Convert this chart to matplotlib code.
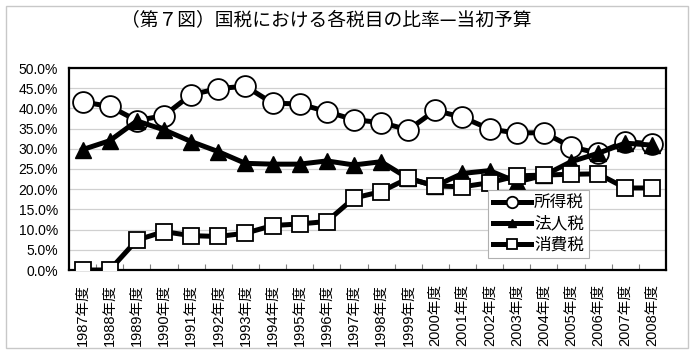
import matplotlib
matplotlib.use("Agg")
import matplotlib.pyplot as plt
from matplotlib.patches import Rectangle
from matplotlib.ticker import FixedLocator, PercentFormatter
import numpy as np

plt.rcParams['font.family'] = ['Liberation Sans', 'Noto Sans CJK JP', 'DejaVu Sans']

title = "（第７図）国税における各税目の比率—当初予算"
years = [f"{y}年度" for y in range(1987, 2009)]
series_names = ["所得税", "法人税", "消費税"]
income_tax = [41.6, 40.5, 37.0, 38.2, 43.4, 44.9, 45.5, 41.3, 41.1, 39.2, 37.2,
              36.5, 34.7, 39.5, 37.8, 34.9, 33.9, 34.0, 30.5, 28.9, 31.8, 31.2]
corporate_tax = [29.8, 32.0, 36.9, 34.7, 31.8, 29.3, 26.4, 26.2, 26.2, 27.0, 26.0,
                 26.8, 22.7, 20.8, 23.9, 24.6, 21.8, 23.4, 26.8, 28.9, 31.4, 30.9]
consumption_tax = [0.0, 0.0, 7.4, 9.5, 8.5, 8.3, 9.1, 11.0, 11.4, 12.0, 17.8,
                   19.4, 22.7, 20.8, 20.6, 21.6, 23.3, 23.5, 23.7, 23.8, 20.3, 20.3]
y_ticks = [0, 5, 10, 15, 20, 25, 30, 35, 40, 45, 50]

fig = plt.figure(figsize=(7.0, 3.57), dpi=100)
fig.patch.set_facecolor("white")
fig.patches.append(Rectangle((6/700, 1-348/357), (688-6)/700, (348-6)/357,
                             transform=fig.transFigure, fill=False,
                             edgecolor="#c8c8c8", linewidth=1.0))

ax = fig.add_axes([69/700, 1-270/357, (666-69)/700, (270-68)/357])
x = np.arange(len(years))

lw = 3.6
ax.plot(x, income_tax, color="black", lw=lw, marker="o", ms=15,
        mfc="white", mec="black", mew=1.3, label=series_names[0], zorder=3)
ax.plot(x, corporate_tax, color="black", lw=lw, marker="^", ms=11,
        mfc="black", mec="black", mew=1.0, label=series_names[1], zorder=4)
ax.plot(x, consumption_tax, color="black", lw=lw, marker="s", ms=12,
        mfc="white", mec="black", mew=1.3, label=series_names[2], zorder=5)

ax.set_xlim(-0.5, len(years) - 0.5)
ax.set_ylim(0, 50)
ax.set_yticks(y_ticks)
ax.yaxis.set_major_formatter(PercentFormatter(decimals=1))
ax.tick_params(axis="y", length=0, pad=8, labelsize=10)
ax.set_xticks(x)
ax.set_xticklabels(years, rotation=90, fontsize=10.5)
ax.tick_params(axis="x", which="major", length=0, pad=10)
ax.xaxis.set_minor_locator(FixedLocator(np.arange(0.5, len(years) - 1, 1.0)))
ax.tick_params(axis="x", which="minor", direction="in", length=4, width=0.8, color="#808080")
ax.grid(axis="y", color="#d0d0d0", linewidth=0.9, zorder=0)
ax.set_axisbelow(True)
for sp in ax.spines.values():
    sp.set_linewidth(1.6)
    sp.set_color("black")

leg = ax.legend(loc="upper left", bbox_to_anchor=(0.702, 0.396), borderaxespad=0,
                fontsize=12, handlelength=2.3, markerscale=0.55, fancybox=False,
                framealpha=1, edgecolor="#b0b0b0", labelspacing=0.22,
                borderpad=0.3, handletextpad=0.15,
                prop={'family': ['Noto Sans CJK JP'], 'size': 12})
leg.get_frame().set_linewidth(0.8)

fig.text(0.466, 1-20/357, title, ha="center", va="center", fontsize=13.5,
         family=['Noto Sans CJK JP'])

fig.savefig("out.png", dpi=100)
